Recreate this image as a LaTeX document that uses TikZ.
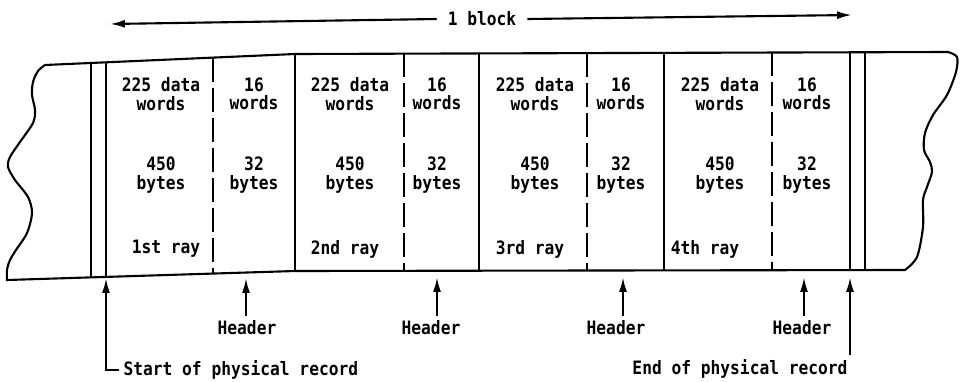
\documentclass[tikz,border=0pt]{standalone}
\usepackage{fontspec}
\newfontfamily\tapefont[FakeStretch=0.88]{DejaVu Sans Mono}
\usetikzlibrary{arrows.meta,calc,positioning}

\begin{document}
\begin{tikzpicture}[
    x=0.02cm, y=-0.02cm,
    >={Latex[length=8.5pt,width=4.5pt]},
    line width=1.2pt,
    txt/.style={font=\tapefont\bfseries\fontsize{10.5}{10.4}\selectfont, align=center, inner sep=2pt},
    gap/.style={dash pattern=on 0.48cm off 0.12cm}
]
    \useasboundingbox (0,0) rectangle (961,382);

    % tape outline
    \draw (45,65) -- (295,54) -- (948,52)
        -- plot[smooth] coordinates {(948,52) (957,57) (956,72) (947,95) (933,115) (925,133)
            (924,150) (930,162) (932,172) (927,187) (923,200) (923,227) (917,257) (905,270)}
        -- (295,271) -- (7,280)
        -- plot[smooth] coordinates {(7,280) (7,270) (10,260) (16,250) (27,233) (32,213)
            (28,197) (15,180) (8,167) (10,157) (20,142) (33,123) (35,110) (32,95)
            (33,82) (38,71) (45,65)};

    % record limits
    \draw (91,63) -- (91,277.4);
    \draw (106,62.3) -- (106,276.9);
    \draw (850,52) -- (850,270);
    \draw (865,52) -- (865,270);

    % ray limits
    \draw (295,54) -- (295,271);
    \draw (479,53) -- (479,271);
    \draw (664,52.5) -- (664,270.5);

    % header limits
    \draw[gap] (213,57.6) -- (213,273.6);
    \draw[gap] (404,53.5) -- (404,271);
    \draw[gap] (587,53) -- (587,270.5);
    \draw[gap] (772,52.5) -- (772,270);

    % cell texts
    \node[txt] (Dat1) at (161,94) {225 data\\words};
    \node[txt] (Dat2) at (350,94) {225 data\\words};
    \node[txt] (Dat3) at (535,94) {225 data\\words};
    \node[txt] (Dat4) at (720,94) {225 data\\words};

    \node[txt] (Hw1) at (254,94) {16\\words};
    \node[txt] (Hw2) at (437,94) {16\\words};
    \node[txt] (Hw3) at (621,94) {16\\words};
    \node[txt] (Hw4) at (807,94) {16\\words};

    \node[txt] (Byt1) at (161,175) {450\\bytes};
    \node[txt] (Byt2) at (350,175) {450\\bytes};
    \node[txt] (Byt3) at (535,175) {450\\bytes};
    \node[txt] (Byt4) at (720,175) {450\\bytes};

    \node[txt] (Hb1) at (254,175) {32\\bytes};
    \node[txt] (Hb2) at (437,175) {32\\bytes};
    \node[txt] (Hb3) at (621,175) {32\\bytes};
    \node[txt] (Hb4) at (807,175) {32\\bytes};

    \node[txt] (Ray1) at (166,249) {1st ray};
    \node[txt] (Ray2) at (345,249) {2nd ray};
    \node[txt] (Ray3) at (530,249) {3rd ray};
    \node[txt] (Ray4) at (705,249) {4th ray};

    % block length
    \node[txt, inner sep=0.2cm] (Blk) at (482,19) {1 block};
    \coordinate (Blk_l) at (110,24);
    \coordinate (Blk_r) at (852,15);
    \draw[->] (Blk.west) -- (Blk_l);
    \draw[->] (Blk.east) -- (Blk_r);

    % headers
    \node[txt] (Hdr1) at (247,328) {Header};
    \node[txt] (Hdr2) at (431,328) {Header};
    \node[txt] (Hdr3) at (616,328) {Header};
    \node[txt] (Hdr4) at (802,328) {Header};

    \coordinate (Hdr1_tip) at (246,278);
    \coordinate (Hdr2_tip) at (437,277);
    \coordinate (Hdr3_tip) at (623,277);
    \coordinate (Hdr4_tip) at (804,277);

    \draw[->] (Hdr1.north -| Hdr1_tip) -- (Hdr1_tip);
    \draw[->] (Hdr2.north -| Hdr2_tip) -- (Hdr2_tip);
    \draw[->] (Hdr3.north -| Hdr3_tip) -- (Hdr3_tip);
    \draw[->] (Hdr4.north -| Hdr4_tip) -- (Hdr4_tip);

    % physical record
    \node[txt, anchor=west] (Start) at (119,370) {Start of physical record};
    \node[txt] (End) at (740,369) {End of physical record};

    \coordinate (Start_tip) at (106,278);
    \coordinate (End_tip)   at (850,277);

    \draw[->] (Start.west) -| (Start_tip);
    \draw[->] (End.north -| End_tip) -- (End_tip);

\end{tikzpicture}
\end{document}
